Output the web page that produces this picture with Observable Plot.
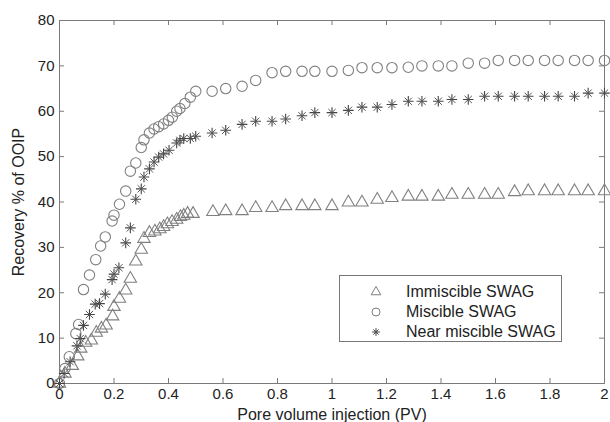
<!DOCTYPE html>
<html>
<head>
<meta charset="utf-8">
<script src="https://cdn.jsdelivr.net/npm/d3@7"></script>
<script src="https://cdn.jsdelivr.net/npm/@observablehq/plot@0.6"></script>
<style>
  html, body { margin: 0; padding: 0; background: #fff; }
  #wrap { position: relative; width: 610px; height: 422px; font-family: "Liberation Sans", Arial, sans-serif; }
  #legend { position: absolute; left: 339px; top: 275px; width: 223px; height: 67px; border: 1px solid #777; background: #fff; box-sizing: border-box; }
  .row { position: absolute; left: 0; height: 20px; display: flex; align-items: center; font-size: 16px; color: #222; }
  .row svg { position: absolute; left: 28px; }
  .row span { position: absolute; left: 66px; white-space: nowrap; }
</style>
</head>
<body>
<div id="wrap"></div>
<script>
// Immiscible SWAG
const immX = [0,0.02,0.047,0.067,0.078,0.096,0.117,0.135,0.154,0.171,0.195,0.2,0.22,0.243,0.26,0.28,0.30,0.31,0.33,0.35,0.368,0.382,0.396,0.413,0.43,0.444,0.456,0.47,0.49,0.563,0.61,0.67,0.72,0.78,0.83,0.89,0.937,1.0,1.06,1.11,1.166,1.22,1.28,1.33,1.39,1.44,1.50,1.56,1.61,1.67,1.72,1.78,1.83,1.89,1.94,2.0];
const immY = [0,2.2,3.9,6,7.7,9,9.5,11.2,12.1,12.8,14.8,16.9,18.7,20.5,23.1,26.9,29.5,31.9,33.2,33.5,34,34.5,35.1,35.6,36.1,36.7,37,37.4,37.4,37.8,38,38,38.7,38.7,39.1,39.1,39.1,39.1,39.9,39.9,40.5,40.9,41.2,41.2,41.2,41.6,41.6,41.6,41.6,42.2,42.4,42.4,42.4,42.4,42.4,42.4];
// Miscible SWAG
const misX = [0,0.02,0.036,0.06,0.07,0.088,0.11,0.133,0.151,0.168,0.193,0.2,0.22,0.243,0.26,0.28,0.30,0.31,0.33,0.347,0.364,0.382,0.40,0.414,0.43,0.442,0.46,0.48,0.50,0.56,0.61,0.67,0.72,0.78,0.83,0.89,0.937,1.0,1.06,1.11,1.166,1.22,1.28,1.33,1.39,1.44,1.50,1.56,1.61,1.67,1.72,1.78,1.83,1.89,1.94,2.0];
const misY = [0,3.3,5.9,11,13,20.7,23.9,27.3,30.3,32.3,35.8,37.1,39.5,42.4,46.8,48.6,52,53.7,55.2,56.1,56.6,57.2,58,58.7,60,60.6,61.7,63.1,64.4,64.4,65,65.5,66.8,68.5,68.8,68.8,68.8,68.8,69,69.6,69.6,69.6,69.7,70,70,70,70.6,70.6,71.2,71.2,71.2,71.2,71.2,71.2,71.2,71.2];
// Near miscible SWAG
const nearX = [0,0.017,0.039,0.064,0.076,0.088,0.11,0.131,0.147,0.168,0.193,0.2,0.218,0.243,0.26,0.28,0.30,0.31,0.33,0.347,0.364,0.382,0.402,0.43,0.442,0.456,0.48,0.50,0.56,0.61,0.67,0.72,0.78,0.83,0.89,0.937,1.0,1.06,1.11,1.166,1.22,1.28,1.33,1.39,1.44,1.50,1.56,1.61,1.67,1.72,1.78,1.83,1.89,1.94,2.0];
const nearY = [0,2.2,4.8,8.3,9.9,12.8,15.2,17.5,17.6,19.7,22.9,24.1,25.5,31,34.3,40.6,42.9,45.5,47.3,48.8,49.9,50.6,51.4,53,53.6,54,54,54.5,55.2,55.8,57.1,57.8,57.8,58.3,59,59.7,59.7,60.2,60.9,60.9,61.5,62.2,62.2,62.2,62.6,62.6,63.3,63.3,63.3,63.3,63.3,63.3,63.3,64,64];

const seriesNames = ["Immiscible SWAG", "Miscible SWAG", "Near miscible SWAG"];
const xTicks = [0,0.2,0.4,0.6,0.8,1,1.2,1.4,1.6,1.8,2];
const yTicks = [0,10,20,30,40,50,60,70,80];

const imm = immX.map((x,i)=>({x, y: immY[i]}));
const mis = misX.map((x,i)=>({x, y: misY[i]}));
const near = nearX.map((x,i)=>({x, y: nearY[i]}));

const W = 610, H = 422, mL = 59, mR = 6, mT = 20, mB = 39;
const tickPx = 5;
const xPer = 2 / (W - mL - mR), yPer = 80 / (H - mT - mB);
const tx = tickPx * xPer, ty = tickPx * yPer;

const axisColor = "#7a7a7a";
const markerColor = "#808080";

const chart = Plot.plot({
  width: W, height: H,
  marginLeft: mL, marginRight: mR, marginTop: mT, marginBottom: mB,
  style: {fontFamily: "Liberation Sans, Arial, sans-serif", fontSize: "15px", color: "#222", background: "#fff"},
  x: {domain: [0, 2]},
  y: {domain: [0, 80]},
  marks: [
    Plot.frame({stroke: axisColor}),
    Plot.ruleX(xTicks.slice(1, -1), {x: d => d, y1: 0, y2: ty, stroke: axisColor}),
    Plot.ruleX(xTicks.slice(1, -1), {x: d => d, y1: 80 - ty, y2: 80, stroke: axisColor}),
    Plot.ruleY(yTicks.slice(1, -1), {y: d => d, x1: 0, x2: tx, stroke: axisColor}),
    Plot.ruleY(yTicks.slice(1, -1), {y: d => d, x1: 2 - tx, x2: 2, stroke: axisColor}),
    Plot.axisX({ticks: xTicks, tickSize: 0, tickPadding: 5, tickFormat: d3.format("~g"), fontSize: 15,
      label: null}),
    Plot.axisX({ticks: [], tickSize: 0, fontSize: 16,
      label: "Pore volume injection (PV)", labelAnchor: "center", labelOffset: 36, labelArrow: "none"}),
    Plot.axisY({ticks: yTicks, tickSize: 0, tickPadding: 5, fontSize: 15, label: null}),
    Plot.axisY({ticks: [], tickSize: 0, fontSize: 16,
      label: "Recovery % of OOIP", labelAnchor: "center", labelOffset: 47, labelArrow: "none"}),
    Plot.dot(imm, {x: "x", y: "y", symbol: "triangle", r: 4.6, stroke: markerColor, strokeWidth: 1.1, fill: "none"}),
    Plot.dot(mis, {x: "x", y: "y", symbol: "circle", r: 5.2, stroke: markerColor, strokeWidth: 1.1, fill: "none"}),
    Plot.dot(near, {x: "x", y: "y", symbol: "plus", r: 3.5, stroke: "#444", strokeWidth: 1.1}),
    Plot.dot(near, {x: "x", y: "y", symbol: "times", r: 3.4, stroke: "#555", strokeWidth: 1.0})
  ]
});

const wrap = document.getElementById("wrap");
wrap.appendChild(chart);

// legend
const legend = document.createElement("div");
legend.id = "legend";
const symDefs = [
  {name: seriesNames[0], paths: [[d3.symbolTriangle, 40]], color: markerColor},
  {name: seriesNames[1], paths: [[d3.symbolCircle, 50]], color: markerColor},
  {name: seriesNames[2], paths: [[d3.symbolPlus, 22], [d3.symbolTimes, 20]], color: "#444"}
];
symDefs.forEach((s, i) => {
  const row = document.createElement("div");
  row.className = "row";
  row.style.top = (6 + i * 20) + "px";
  const svg = d3.create("svg").attr("width", 16).attr("height", 16).attr("viewBox", "-8 -8 16 16");
  s.paths.forEach(([t, size]) => {
    svg.append("path").attr("d", d3.symbol(t, size)()).attr("fill", "none").attr("stroke", s.color).attr("stroke-width", 1);
  });
  row.appendChild(svg.node());
  const span = document.createElement("span");
  span.textContent = s.name;
  row.appendChild(span);
  legend.appendChild(row);
});
wrap.appendChild(legend);
</script>
</body>
</html>
